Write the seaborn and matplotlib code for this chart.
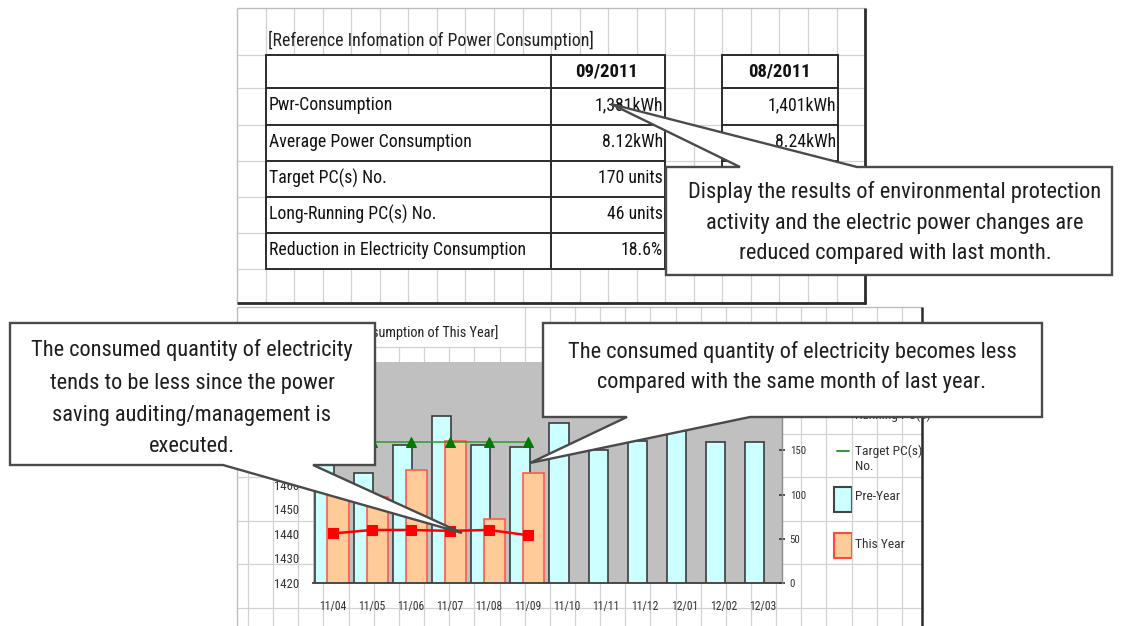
import numpy as np
import matplotlib
matplotlib.use("Agg")
import matplotlib.pyplot as plt
from matplotlib.patches import Rectangle, Polygon
from matplotlib import font_manager as fm
import seaborn as sns

# ---- data -------------------------------------------------------------
months = ["11/04", "11/05", "11/06", "11/07", "11/08", "11/09",
          "11/10", "11/11", "11/12", "12/01", "12/02", "12/03"]
pre_year_kwh = [1472, 1465, 1476, 1488, 1476, 1475.5,
                1485, 1474, 1478, 1482, 1477.5, 1477.5]
this_months = months[:6]
this_year_kwh = [1458, 1455, 1466, 1478, 1446, 1465]
running_pcs = [56, 60, 60, 59, 60, 54]
target_pcs = [160, 160, 160, 160, 160, 160]

kwh_ticks = [1420, 1430, 1440, 1450, 1460, 1470, 1480, 1490, 1500, 1510]
pc_ticks = [0, 50, 100, 150, 200, 250]

table_title = "[Reference Infomation of Power Consumption]"
table_rows = ["Pwr-Consumption", "Average Power Consumption", "Target PC(s) No.",
              "Long-Running PC(s) No.", "Reduction in Electricity Consumption"]
table_cur_head = "09/2011"
table_cur_vals = ["1,381kWh", "8.12kWh", "170 units", "46 units", "18.6%"]
table_prev_head = "08/2011"
table_prev_vals = ["1,401kWh", "8.24kWh", "", "", ""]
chart_title = "[Power Consumption of This Year]"

note_top = ["Display the results of environmental protection",
            "activity and the electric power changes are",
            "reduced compared with last month."]
note_left = ["The consumed quantity of electricity",
             "tends to be less since the power",
             "saving auditing/management is",
             "executed."]
note_mid = ["The consumed quantity of electricity becomes less",
            "compared with the same month of last year."]

# ---- fonts: prefer a narrow face -----------------------------------------
sns.set_style("ticks")
ttf = fm.fontManager.ttflist
names = {f.name for f in ttf}
FAM, STRETCH = "Liberation Sans", "normal"
for cand in ["Liberation Sans Narrow", "Roboto Condensed", "Open Sans Condensed",
             "DejaVu Sans Condensed", "Noto Sans Condensed"]:
    if cand in names:
        FAM = cand
        break
else:
    narrow = [f for f in ttf if ("Narrow" in f.name or "Condensed" in f.name)
              and "Mono" not in f.name and "Serif" not in f.name]
    cond = [f for f in ttf if str(f.stretch) in ("condensed", "semi-condensed",
                                                   "extra-condensed")
            and "Mono" not in f.name and "Serif" not in f.name]
    if narrow:
        FAM = narrow[0].name
    elif cond:
        FAM, STRETCH = cond[0].name, cond[0].stretch
    elif "Liberation Sans" not in names:
        FAM = "DejaVu Sans"
plt.rcParams["font.family"] = [FAM, "DejaVu Sans"]
plt.rcParams["font.stretch"] = STRETCH

W, H = 1125, 626
fig = plt.figure(figsize=(W / 100, H / 100), dpi=100)
fig.patch.set_facecolor("white")
renderer = fig.canvas.get_renderer()


def fit(lines, target_px, weight="normal"):
    """Font size (pt) giving the widest line the requested pixel width."""
    if isinstance(lines, str):
        lines = [lines]
    prop = fm.FontProperties(family=[FAM, "DejaVu Sans"], stretch=STRETCH,
                             weight=weight, size=10)
    w = max(renderer.get_text_width_height_descent(s, prop, ismath=False)[0]
            for s in lines)
    return 10 * target_px / w


FS_TABLE = fit("Reduction in Electricity Consumption", 255)
FS_TITLE = fit(table_title, 324)
FS_HEAD = fit(table_cur_head, 63, weight="bold")
FS_CHART_TITLE = fit("umption of This Year]", 120)
FS_XT = fit("11/04", 27)
FS_YL = fit("1450", 25)
FS_YR = fit("150", 16)
FS_LEG = fit("Pre-Year", 45)

# background sheet layer, pixel coordinates (y grows downward)
bg = fig.add_axes([0, 0, 1, 1], zorder=-1)
bg.set_xlim(0, W)
bg.set_ylim(H, 0)
bg.axis("off")

GRID = "#d2d2d2"
DARK = "#2b2b2b"
TXT = "#111111"

# upper sheet: cell grid
cols_top = 237 + 28.55 * np.arange(1, 22)
bg.vlines(cols_top, 8, 303, color=GRID, lw=0.9)
for yy in [55, 88, 125, 161, 197, 233, 269]:
    bg.hlines(yy, 237, 865, color=GRID, lw=0.9)
bg.vlines(237, 8, 303, color="#bdbdbd", lw=1.0)
bg.hlines(8, 237, 865, color="#bdbdbd", lw=1.0)
bg.vlines(865, 8, 304, color=DARK, lw=2.0)
bg.hlines(303, 237, 866, color=DARK, lw=2.0)

# lower sheet: cell grid
cols_low = 248 + 25.15 * np.arange(0, 27)
cols_low = cols_low[cols_low < 920]
for xx in cols_low:
    top = 307 if xx > 520 else 347
    bg.vlines(xx, top, H, color=GRID, lw=0.9)
for yy in [347, 391, 434, 477, 521, 564, 608]:
    bg.hlines(yy, 237, 922, color=GRID, lw=0.9)
bg.hlines(307, 237, 922, color="#bdbdbd", lw=1.0)
bg.vlines(237, 307, H, color="#bdbdbd", lw=1.0)
bg.vlines(922, 307, H, color=DARK, lw=1.8)

# reference table
bg.text(268, 40, table_title, fontsize=FS_TITLE, color="#222222", va="center", ha="left")
row_y = [55, 88, 125, 161, 197, 233, 269]


def draw_table(x0, x1, xsplit=None):
    bg.add_patch(Rectangle((x0, row_y[0]), x1 - x0, row_y[-1] - row_y[0],
                           facecolor="white", edgecolor=DARK, lw=1.4, zorder=2))
    for yy in row_y[1:-1]:
        bg.hlines(yy, x0, x1, color=DARK, lw=1.4, zorder=3)
    if xsplit is not None:
        bg.vlines(xsplit, row_y[0], row_y[-1], color=DARK, lw=1.4, zorder=3)


draw_table(266, 665, 551)
draw_table(722, 838)
bg.text(607, 71.5, table_cur_head, fontsize=FS_HEAD, fontweight="bold", color=TXT,
        ha="center", va="center", zorder=4)
bg.text(779, 71.5, table_prev_head, fontsize=FS_HEAD, fontweight="bold", color=TXT,
        ha="center", va="center", zorder=4)
for i, (lab, v1, v0) in enumerate(zip(table_rows, table_cur_vals, table_prev_vals)):
    yc = (row_y[i + 1] + row_y[i + 2]) / 2 - 1
    bg.text(269, yc, lab, fontsize=FS_TABLE, color=TXT, ha="left", va="center", zorder=4)
    bg.text(663, yc, v1, fontsize=FS_TABLE, color=TXT, ha="right", va="center", zorder=4)
    if v0:
        bg.text(836, yc, v0, fontsize=FS_TABLE, color=TXT, ha="right", va="center",
                zorder=4)

# chart title (partly under a note)
bg.text(498, 333, chart_title, fontsize=FS_CHART_TITLE, color="#222222",
        ha="right", va="center")

# ---- chart ----------------------------------------------------------------
ax = fig.add_axes([313 / W, 1 - 583 / H, 469 / W, 221 / H])
ax.set_facecolor("#c0c0c0")

sns.barplot(x=months, y=pre_year_kwh, order=months, color="#ccffff", saturation=1,
            width=0.49, edgecolor="#3c3c3c", linewidth=1.2, errorbar=None, ax=ax)
n_pre = len(ax.patches)
for p in ax.patches[:n_pre]:
    p.set_x(p.get_x() - 0.205)

sns.barplot(x=this_months, y=this_year_kwh, order=months, color="#ffcc99", saturation=1,
            width=0.54, edgecolor="#ff5a4a", linewidth=1.2, errorbar=None, ax=ax)
for p in ax.patches[n_pre:]:
    p.set_x(p.get_x() + 0.14)

ax.set_xlim(-0.5, len(months) - 0.5)
ax.set_ylim(kwh_ticks[0], kwh_ticks[-1])
ax.set_yticks(kwh_ticks)
# labels above 1460 sit under the note box
ax.set_yticklabels([str(t) if t <= 1460 else "" for t in kwh_ticks])
ax.set_xlabel("")
ax.set_ylabel("")
ax.tick_params(axis="x", length=0, pad=12, labelsize=FS_XT, labelcolor="#333333")
ax.tick_params(axis="y", length=0, pad=10, labelsize=FS_YL, labelcolor="#333333")
for side in ["top", "left", "right"]:
    ax.spines[side].set_visible(False)
ax.spines["bottom"].set_color("#3c3c3c")
ax.spines["bottom"].set_linewidth(1.3)

ax2 = ax.twinx()
sns.lineplot(x=np.arange(len(this_months)), y=target_pcs, ax=ax2, color="#2f9a2f",
             linewidth=1.1, marker="^", markersize=6.5, markerfacecolor="#007a00",
             markeredgecolor="#007a00")
sns.lineplot(x=np.arange(len(this_months)), y=running_pcs, ax=ax2, color="#ff0000",
             linewidth=1.8, marker="s", markersize=7.5, markerfacecolor="#ff0000",
             markeredgecolor="#ff0000")
ax2.set_xlim(-0.5, len(months) - 0.5)
ax2.set_ylim(pc_ticks[0], pc_ticks[-1])
ax2.set_yticks(pc_ticks)
# labels above 150 sit under the note box
ax2.set_yticklabels([str(t) if t <= 150 else "" for t in pc_ticks])
ax2.set_ylabel("")
ax2.tick_params(axis="y", length=5, width=1.2, direction="inout", pad=3,
                labelsize=FS_YR, labelcolor="#333333", color="#333333")
for side in ["top", "left", "bottom"]:
    ax2.spines[side].set_visible(False)
ax2.spines["right"].set_color("#8a8a8a")
ax2.spines["right"].set_linewidth(1.0)

# legend keys
bg.text(855, 415, "Running PC(s)", fontsize=FS_LEG, color="#333333", ha="left",
        va="center")
bg.plot([837, 849], [451, 451], color="#2f9a2f", lw=1.4)
bg.text(855, 451, "Target PC(s)", fontsize=FS_LEG, color="#333333", ha="left",
        va="center")
bg.text(855, 467, "No.", fontsize=FS_LEG, color="#333333", ha="left", va="center")
bg.add_patch(Rectangle((834, 487), 18, 25, facecolor="#ccffff", edgecolor="#444444", lw=1.5))
bg.text(855, 497, "Pre-Year", fontsize=FS_LEG, color="#333333", ha="left", va="center")
bg.add_patch(Rectangle((834, 533), 18, 25, facecolor="#ffcc99", edgecolor="#ff4a3a", lw=1.5))
bg.text(855, 545, "This Year", fontsize=FS_LEG, color="#333333", ha="left", va="center")

# ---- notes layer ------------------------------------------------------------
fg = fig.add_axes([0, 0, 1, 1], zorder=10)
fg.set_xlim(0, W)
fg.set_ylim(H, 0)
fg.axis("off")
fg.patch.set_alpha(0)

NOTE_EDGE = "#4a4a4a"
NOTE_TXT = "#1e1e1e"
FS_NOTE = min(fit(note_top[0], 410), fit(note_mid[0], 449), fit(note_left[0], 320))


def note(verts, lines, xc, ys):
    fg.add_patch(Polygon(verts, closed=True, facecolor="white", edgecolor=NOTE_EDGE,
                         lw=1.7, joinstyle="miter"))
    for s, yy in zip(lines, ys):
        fg.text(xc, yy, s, fontsize=FS_NOTE, color=NOTE_TXT, ha="center", va="center")


note([(666, 167), (740, 167), (611, 104), (857, 167), (1112, 167),
      (1112, 275), (666, 275)], note_top, 895, [192, 223, 254])
note([(10, 323), (375, 323), (375, 465), (313, 465), (462, 533),
      (223, 465), (10, 465)], note_left, 192, [350, 383, 415, 447])
note([(543, 323), (1042, 323), (1042, 417), (750, 417), (530, 463),
      (627, 417), (543, 417)], note_mid, 792, [352, 382])

fig.savefig("out.png", dpi=100)
